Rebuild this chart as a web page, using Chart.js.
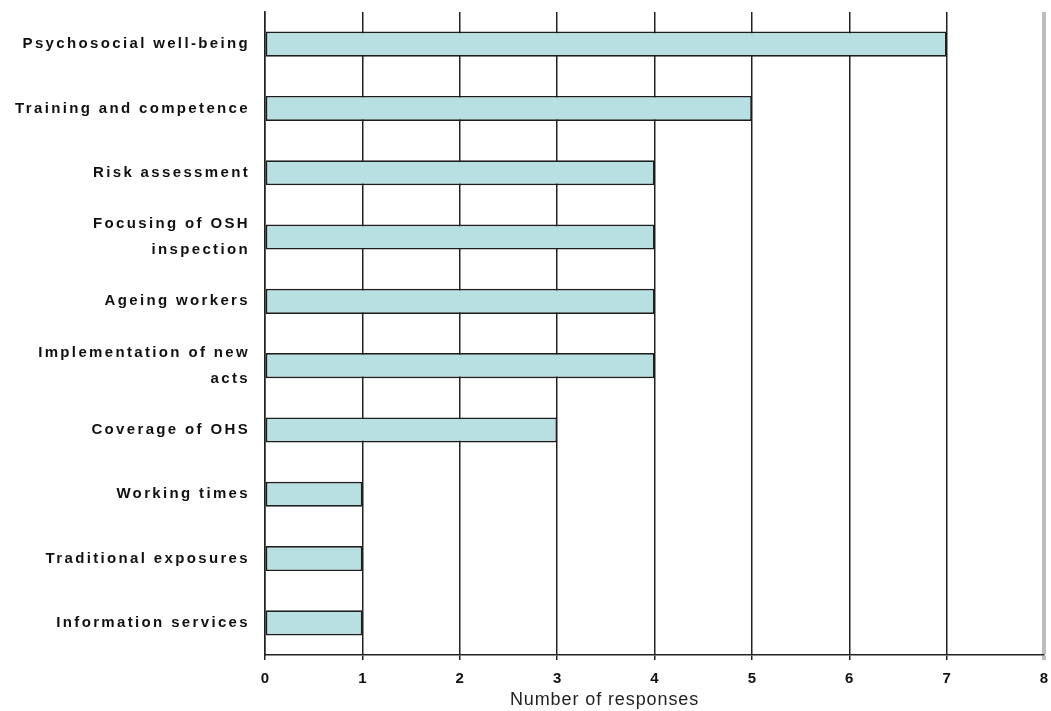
<!DOCTYPE html>
<html>
<head>
<meta charset="utf-8">
<script src="https://cdn.jsdelivr.net/npm/chart.js@4/dist/chart.umd.min.js"></script>
<style>
html,body{margin:0;padding:0;background:#fff;}
#wrap{width:1051px;height:711px;position:relative;}
</style>
</head>
<body>
<div id="wrap"><canvas id="c" width="1051" height="711"></canvas></div>
<script>
const categories = [
  'Psychosocial well-being',
  'Training and competence',
  'Risk assessment',
  ['Focusing of OSH', 'inspection'],
  'Ageing workers',
  ['Implementation of new', 'acts'],
  'Coverage of OHS',
  'Working times',
  'Traditional exposures',
  'Information services'
];
const responses = [7, 5, 4, 4, 4, 4, 3, 1, 1, 1];
const xTickMin = 0;
const xTickMax = 8;
const xTitle = 'Number of responses';

const spacingPlugin = {
  id: 'spacing',
  beforeDraw(chart) {
    const y = chart.scales.y, x = chart.scales.x;
    if (!y._sp) {
      const o = y.drawLabels;
      y.drawLabels = function (a) { const c = this.ctx; c.save(); c.letterSpacing = '2.35px'; o.call(this, a); c.restore(); };
      y._sp = true;
    }
    if (!x._sp) {
      const ol = x.drawLabels;
      x.drawLabels = function (a) { const c = this.ctx; c.save(); c.letterSpacing = '0px'; ol.call(this, a); c.restore(); };
      const ot = x.drawTitle;
      x.drawTitle = function (a) { const c = this.ctx; c.save(); c.letterSpacing = '0.9px'; c.translate(-50, 1); ot.call(this, a); c.restore(); };
      x._sp = true;
    }
  }
};

new Chart(document.getElementById('c'), {
  type: 'bar',
  data: {
    labels: categories,
    datasets: [{
      data: responses,
      backgroundColor: '#b8dfe2',
      borderColor: '#1e1e1e',
      borderWidth: 1.7,
      borderSkipped: false,
      categoryPercentage: 1,
      barPercentage: 0.39
    }]
  },
  options: {
    indexAxis: 'y',
    responsive: false,
    animation: false,
    layout: { padding: { top: 12, right: 7, left: 0, bottom: 0 } },
    plugins: { legend: { display: false }, tooltip: { enabled: false } },
    scales: {
      x: {
        min: xTickMin,
        max: xTickMax,
        ticks: {
          stepSize: 1,
          color: '#111',
          padding: 10,
          font: { family: 'Liberation Sans, Arial, sans-serif', size: 15, weight: 'bold' }
        },
        grid: {
          color: (ctx) => (ctx.tick && ctx.tick.value === xTickMax) ? '#bdbdbd' : '#222',
          lineWidth: (ctx) => (ctx.tick && ctx.tick.value === xTickMax) ? 4 : 1.5,
          tickLength: 5,
          drawTicks: true
        },
        border: { display: true, color: '#222', width: 1.5 },
        title: {
          display: true,
          text: xTitle,
          color: '#222',
          padding: { top: 0, bottom: 1 },
          font: { family: 'Liberation Sans, Arial, sans-serif', size: 18, weight: 'normal' }
        },
        afterFit(scale) { scale.height = 56; scale.paddingLeft = 0; scale.paddingRight = 0; }
      },
      y: {
        ticks: {
          color: '#111',
          padding: 15,
          autoSkip: false,
          font: { family: 'Liberation Sans, Arial, sans-serif', size: 15, weight: 'bold', lineHeight: '26px' }
        },
        grid: { display: false, drawTicks: false },
        border: { display: true, color: '#222', width: 1.5 },
        afterFit(scale) { scale.width = 265; scale.paddingTop = 0; scale.paddingBottom = 0; }
      }
    }
  },
  plugins: [spacingPlugin]
});
</script>
</body>
</html>
